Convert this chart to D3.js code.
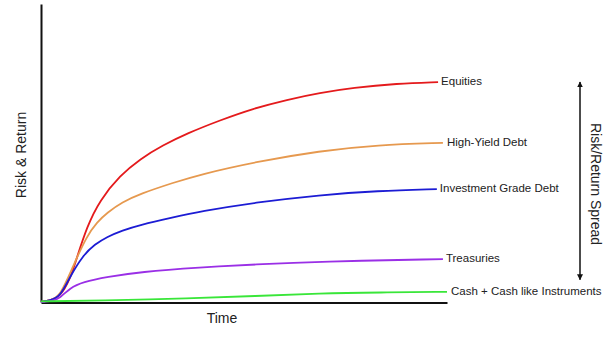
<!DOCTYPE html>
<html>
<head>
<meta charset="utf-8">
<script src="https://cdn.jsdelivr.net/npm/d3@7"></script>
<style>
  html, body { margin: 0; padding: 0; background: #fff; }
  svg { display: block; font-family: "Liberation Sans", Arial, sans-serif; }
</style>
</head>
<body>
<div id="chart"></div>
<script>
// time runs 0..100, risk/return 0..100 (no units on the original)
var equities = [[0,0],[2.2,0.5],[4.7,1.7],[7.1,7.4],[8.9,15.1],[11.3,25.2],[14.5,34.2],[19.5,42.5],[24.4,48.0],[30,52.6],[36,56.6],[44.1,61.0],[52.2,64.9],[60.6,67.9],[68.7,70.2],[76.8,71.9],[87.7,73.3],[97.8,73.8]];
var highYield = [[0,0],[2.2,0.5],[4.7,1.8],[7.9,12.1],[11.3,22.2],[13.8,26.8],[16.3,30.0],[20,33.5],[24.4,36.3],[32.5,40.0],[39.2,42.8],[52.7,47.0],[68.7,50.7],[82.8,52.7],[99,53.4]];
var investGrade = [[0,0],[2.2,0.5],[4.7,1.7],[7.1,8.4],[10.3,15.6],[13.3,19.4],[16.3,21.9],[20,24.0],[24.4,25.9],[32.5,28.4],[39.2,30.4],[52.7,33.4],[68.7,35.9],[82.8,37.3],[97.5,37.9]];
var treasuries = [[0,0],[2.7,0.3],[4.7,1.3],[7.1,4.7],[10.3,6.7],[16.3,8.4],[24.4,10.1],[39.2,11.6],[52.7,12.6],[68.7,13.6],[99,14.4]];
var cash = [[0,0.2],[14.5,0.5],[36.7,1.2],[52.7,2.0],[68.7,2.9],[83.5,3.2],[100,3.4]];

var seriesNames = ["Equities", "High-Yield Debt", "Investment Grade Debt", "Treasuries", "Cash + Cash like Instruments"];
var seriesData = [equities, highYield, investGrade, treasuries, cash];
var seriesColors = ["#e41a1c", "#e6994f", "#1c1cd4", "#9a2fe6", "#39e639"];
var labelGap = [3, 4, 3, 3, 4];

var width = 615, height = 339;
var svg = d3.select("#chart").append("svg")
    .attr("width", width)
    .attr("height", height);

var x = d3.scaleLinear().domain([0, 100]).range([41, 447]);
var y = d3.scaleLinear().domain([0, 100]).range([302, 4]);

// axes, no ticks
svg.append("g")
    .attr("transform", "translate(41,0)")
    .call(d3.axisLeft(y).ticks(0).tickSizeOuter(0))
    .select(".domain").attr("stroke", "#111").attr("stroke-width", 2);
svg.append("g")
    .attr("transform", "translate(0,302.5)")
    .call(d3.axisBottom(x).ticks(0).tickSizeOuter(0))
    .select(".domain").attr("stroke", "#111").attr("stroke-width", 2);

var line = d3.line()
    .x(function (d) { return x(d[0]); })
    .y(function (d) { return y(d[1]); })
    .curve(d3.curveBasis);

seriesData.forEach(function (s, i) {
  svg.append("path")
      .datum(s)
      .attr("fill", "none")
      .attr("stroke", seriesColors[i])
      .attr("stroke-width", 1.8)
      .attr("d", line);

  var last = s[s.length - 1];
  svg.append("text")
      .attr("x", x(last[0]) + labelGap[i])
      .attr("y", y(last[1]) - 1)
      .attr("dy", "0.35em")
      .style("font-size", "11.5px")
      .style("fill", "#222")
      .text(seriesNames[i]);
});

// axis titles
svg.append("text")
    .attr("transform", "translate(26,155) rotate(-90)")
    .attr("text-anchor", "middle")
    .style("font-size", "14px")
    .style("fill", "#222")
    .text("Risk & Return");
svg.append("text")
    .attr("x", 222)
    .attr("y", 323)
    .attr("text-anchor", "middle")
    .style("font-size", "14px")
    .style("fill", "#222")
    .text("Time");

// spread arrow
var defs = svg.append("defs");
defs.append("marker")
    .attr("id", "head")
    .attr("viewBox", "0 0 10 10")
    .attr("refX", 9).attr("refY", 5)
    .attr("markerWidth", 6).attr("markerHeight", 8)
    .attr("markerUnits", "userSpaceOnUse")
    .attr("orient", "auto-start-reverse")
  .append("path")
    .attr("d", "M0,0L10,5L0,10Z")
    .attr("fill", "#111");

var arrowX = 580;
svg.append("line")
    .attr("x1", arrowX).attr("x2", arrowX)
    .attr("y1", y(73.8)).attr("y2", y(7.5))
    .attr("stroke", "#111")
    .attr("stroke-width", 1.5)
    .attr("marker-start", "url(#head)")
    .attr("marker-end", "url(#head)");

svg.append("text")
    .attr("transform", "translate(591,184) rotate(90)")
    .attr("text-anchor", "middle")
    .style("font-size", "14px")
    .style("fill", "#222")
    .text("Risk/Return Spread");
</script>
</body>
</html>
